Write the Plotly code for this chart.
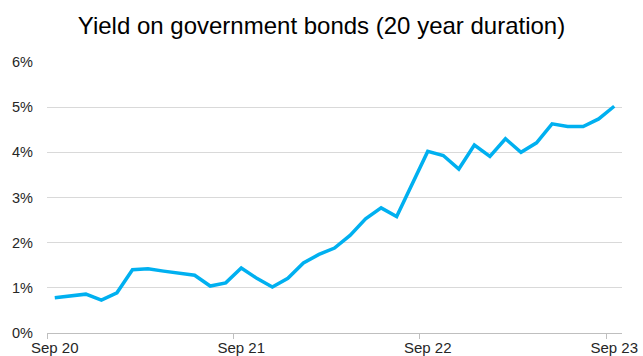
import plotly.graph_objects as go

months = []
for yr in [20, 21, 22, 23]:
    for m in ["Jan", "Feb", "Mar", "Apr", "May", "Jun", "Jul", "Aug", "Sep", "Oct", "Nov", "Dec"]:
        months.append(f"{m} {yr}")
months = months[months.index("Sep 20"):months.index("Sep 23") + 1]

yields = [0.78, 0.82, 0.86, 0.73, 0.89, 1.40, 1.42, 1.37, 1.33, 1.28, 1.04, 1.11,
          1.44, 1.21, 1.02, 1.21, 1.55, 1.74, 1.88, 2.16, 2.53, 2.77, 2.58, 3.30,
          4.02, 3.93, 3.63, 4.16, 3.91, 4.30, 4.00, 4.21, 4.63, 4.57, 4.57, 4.74, 5.02]

tick_labels = ["Sep 20", "Sep 21", "Sep 22", "Sep 23"]
y_ticks = [0, 1, 2, 3, 4, 5, 6]

idx = list(range(len(months)))
label_pos = [months.index(t) for t in tick_labels]
boundary_pos = [p - 0.5 for p in label_pos]

fig = go.Figure()
fig.add_trace(go.Scatter(x=idx, y=yields, mode="lines",
                         line=dict(color="#00b0f0", width=3.5), showlegend=False))
# invisible trace for boundary-tick axis
fig.add_trace(go.Scatter(x=[idx[0]], y=[yields[0]], xaxis="x2", mode="markers",
                         marker=dict(opacity=0), showlegend=False, hoverinfo="skip"))

xr = [-0.5, len(months) - 0.5]
fig.update_layout(
    width=643, height=356,
    margin=dict(l=47, r=21, t=62, b=23),
    paper_bgcolor="white", plot_bgcolor="white",
    font=dict(family="Liberation Sans, Arial", color="#262626", size=14),
    title=dict(text="Yield on government bonds (20 year duration)",
               x=0.5, xanchor="center", y=0.927, yanchor="middle",
               font=dict(size=24, color="#000000"), automargin=False),
    xaxis=dict(range=xr, tickmode="array", tickvals=label_pos, ticktext=tick_labels,
               ticks="", showgrid=False, zeroline=False, showline=True,
               linecolor="#bfbfbf", linewidth=1, ticklabelstandoff=1,
               automargin=False, tickfont=dict(size=15, color="#262626")),
    xaxis2=dict(range=xr, overlaying="x", side="bottom", tickmode="array",
                tickvals=boundary_pos, ticktext=["", "", "", ""], ticks="outside",
                ticklen=5, tickcolor="#bfbfbf", tickwidth=1, showgrid=False,
                zeroline=False, showline=False, showticklabels=False,
                automargin=False),
    yaxis=dict(range=[0, 6], tickmode="array", tickvals=y_ticks,
               ticktext=[f"{v}%" for v in y_ticks], showgrid=True,
               gridcolor="#d9d9d9", gridwidth=1, zeroline=False, ticks="",
               ticklabelstandoff=13, automargin=False,
               tickfont=dict(size=14.5, color="#262626")),
)

fig.write_html("out.html")
